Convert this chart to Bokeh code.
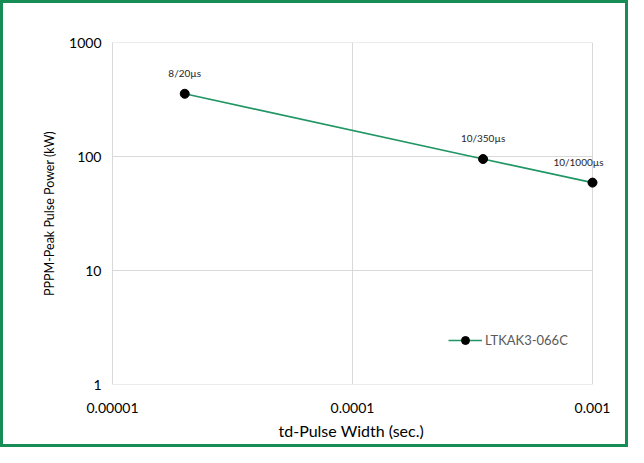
from bokeh.plotting import figure
from bokeh.embed import file_html
from bokeh.resources import INLINE
from bokeh.models import FixedTicker, Legend, LegendItem, ColumnDataSource, Label, Title

# Data
pulse_width = [2.0e-5, 3.5e-4, 1.0e-3]
peak_power = [355, 95, 59]
point_labels = ["8/20µs", "10/350µs", "10/1000µs"]
label_x_offsets = [0, 0, -14]
series_name = "LTKAK3-066C"
x_ticks = [1e-5, 1e-4, 1e-3]
x_tick_labels = ["0.00001", "0.0001", "0.001"]
y_ticks = [1, 10, 100, 1000]
y_tick_labels = ["1", "10", "100", "1000"]
x_title = "td-Pulse Width (sec.)"
y_title = "PPPM-Peak Pulse Power (kW)"

X_MIN, X_MAX = x_ticks[0], x_ticks[-1]
Y_MIN, Y_MAX = y_ticks[0], y_ticks[-1]
# a little room right of the plot box so that the last data label is not clipped
X_VIEW_MAX = X_MAX * 10 ** 0.1

FONT = "Lato"
LINE_COLOR = "#1f9663"
BORDER_COLOR = "#178c55"
GRID = "#d9d9d9"

p = figure(
    width=628, height=447,
    x_axis_type="log", y_axis_type="log",
    x_range=(X_MIN, X_VIEW_MAX), y_range=(Y_MIN, Y_MAX),
    output_backend="svg", toolbar_location=None,
    min_border_left=109, min_border_right=15,
    min_border_top=39, min_border_bottom=66,
    styles={"border": f"3px solid {BORDER_COLOR}"},
)
p.outline_line_color = None
p.background_fill_color = "white"
p.border_fill_color = "white"
p.xgrid.visible = False
p.ygrid.visible = False

# plot-box grid (drawn from the tick arrays)
p.segment(x0=[X_MIN] * len(y_ticks), x1=[X_MAX] * len(y_ticks), y0=y_ticks, y1=y_ticks,
          line_color=GRID, line_width=1)
p.segment(x0=x_ticks, x1=x_ticks, y0=[Y_MIN] * len(x_ticks), y1=[Y_MAX] * len(x_ticks),
          line_color=GRID, line_width=1)

src = ColumnDataSource(dict(x=pulse_width, y=peak_power))

ln = p.line("x", "y", source=src, line_color=LINE_COLOR, line_width=1.6)
sc = p.scatter("x", "y", source=src, size=9, fill_color="black", line_color="black")

for xv, yv, lab, xo in zip(pulse_width, peak_power, point_labels, label_x_offsets):
    p.add_layout(Label(x=xv, y=yv, text=lab, x_offset=xo, y_offset=15,
                       text_align="center", text_baseline="bottom",
                       text_font=FONT, text_font_size="10px", text_color="#262626"))

# Axes
for ax in (p.xaxis[0], p.yaxis[0]):
    ax.major_tick_line_color = None
    ax.minor_tick_line_color = None
    ax.major_label_text_font = FONT
    ax.major_label_text_font_size = "14px"
    ax.major_label_text_color = "#000000"
    ax.axis_label_text_font = FONT
    ax.axis_label_text_font_style = "normal"
    ax.axis_label_text_color = "#000000"

p.yaxis.axis_line_color = GRID
p.xaxis.axis_line_color = None
p.yaxis.axis_label_text_font_size = "12.5px"
p.xaxis.ticker = FixedTicker(ticks=x_ticks, minor_ticks=[])
p.yaxis.ticker = FixedTicker(ticks=y_ticks, minor_ticks=[])
p.xaxis.major_label_overrides = {t: l for t, l in zip(x_ticks, x_tick_labels)}
p.yaxis.major_label_overrides = {t: l for t, l in zip(y_ticks, y_tick_labels)}
p.yaxis.axis_label = y_title
p.xaxis.major_label_standoff = 12
p.yaxis.major_label_standoff = 5
p.yaxis.axis_label_standoff = 9

# x-axis title centred under the plot box (not under the widened frame)
p.add_layout(Title(text=x_title, align="left", offset=166, standoff=6,
                   text_font=FONT, text_font_size="16px", text_font_style="normal",
                   text_color="#000000"), "below")

legend = Legend(items=[LegendItem(label=series_name, renderers=[ln, sc])],
                location=(336, 34), border_line_color=None, background_fill_alpha=0,
                padding=0, margin=0, glyph_width=34, glyph_height=20, label_standoff=3,
                label_text_font=FONT, label_text_font_size="13px", label_text_color="#595959")
p.add_layout(legend)

open("out.html", "w").write(file_html(p, INLINE))
